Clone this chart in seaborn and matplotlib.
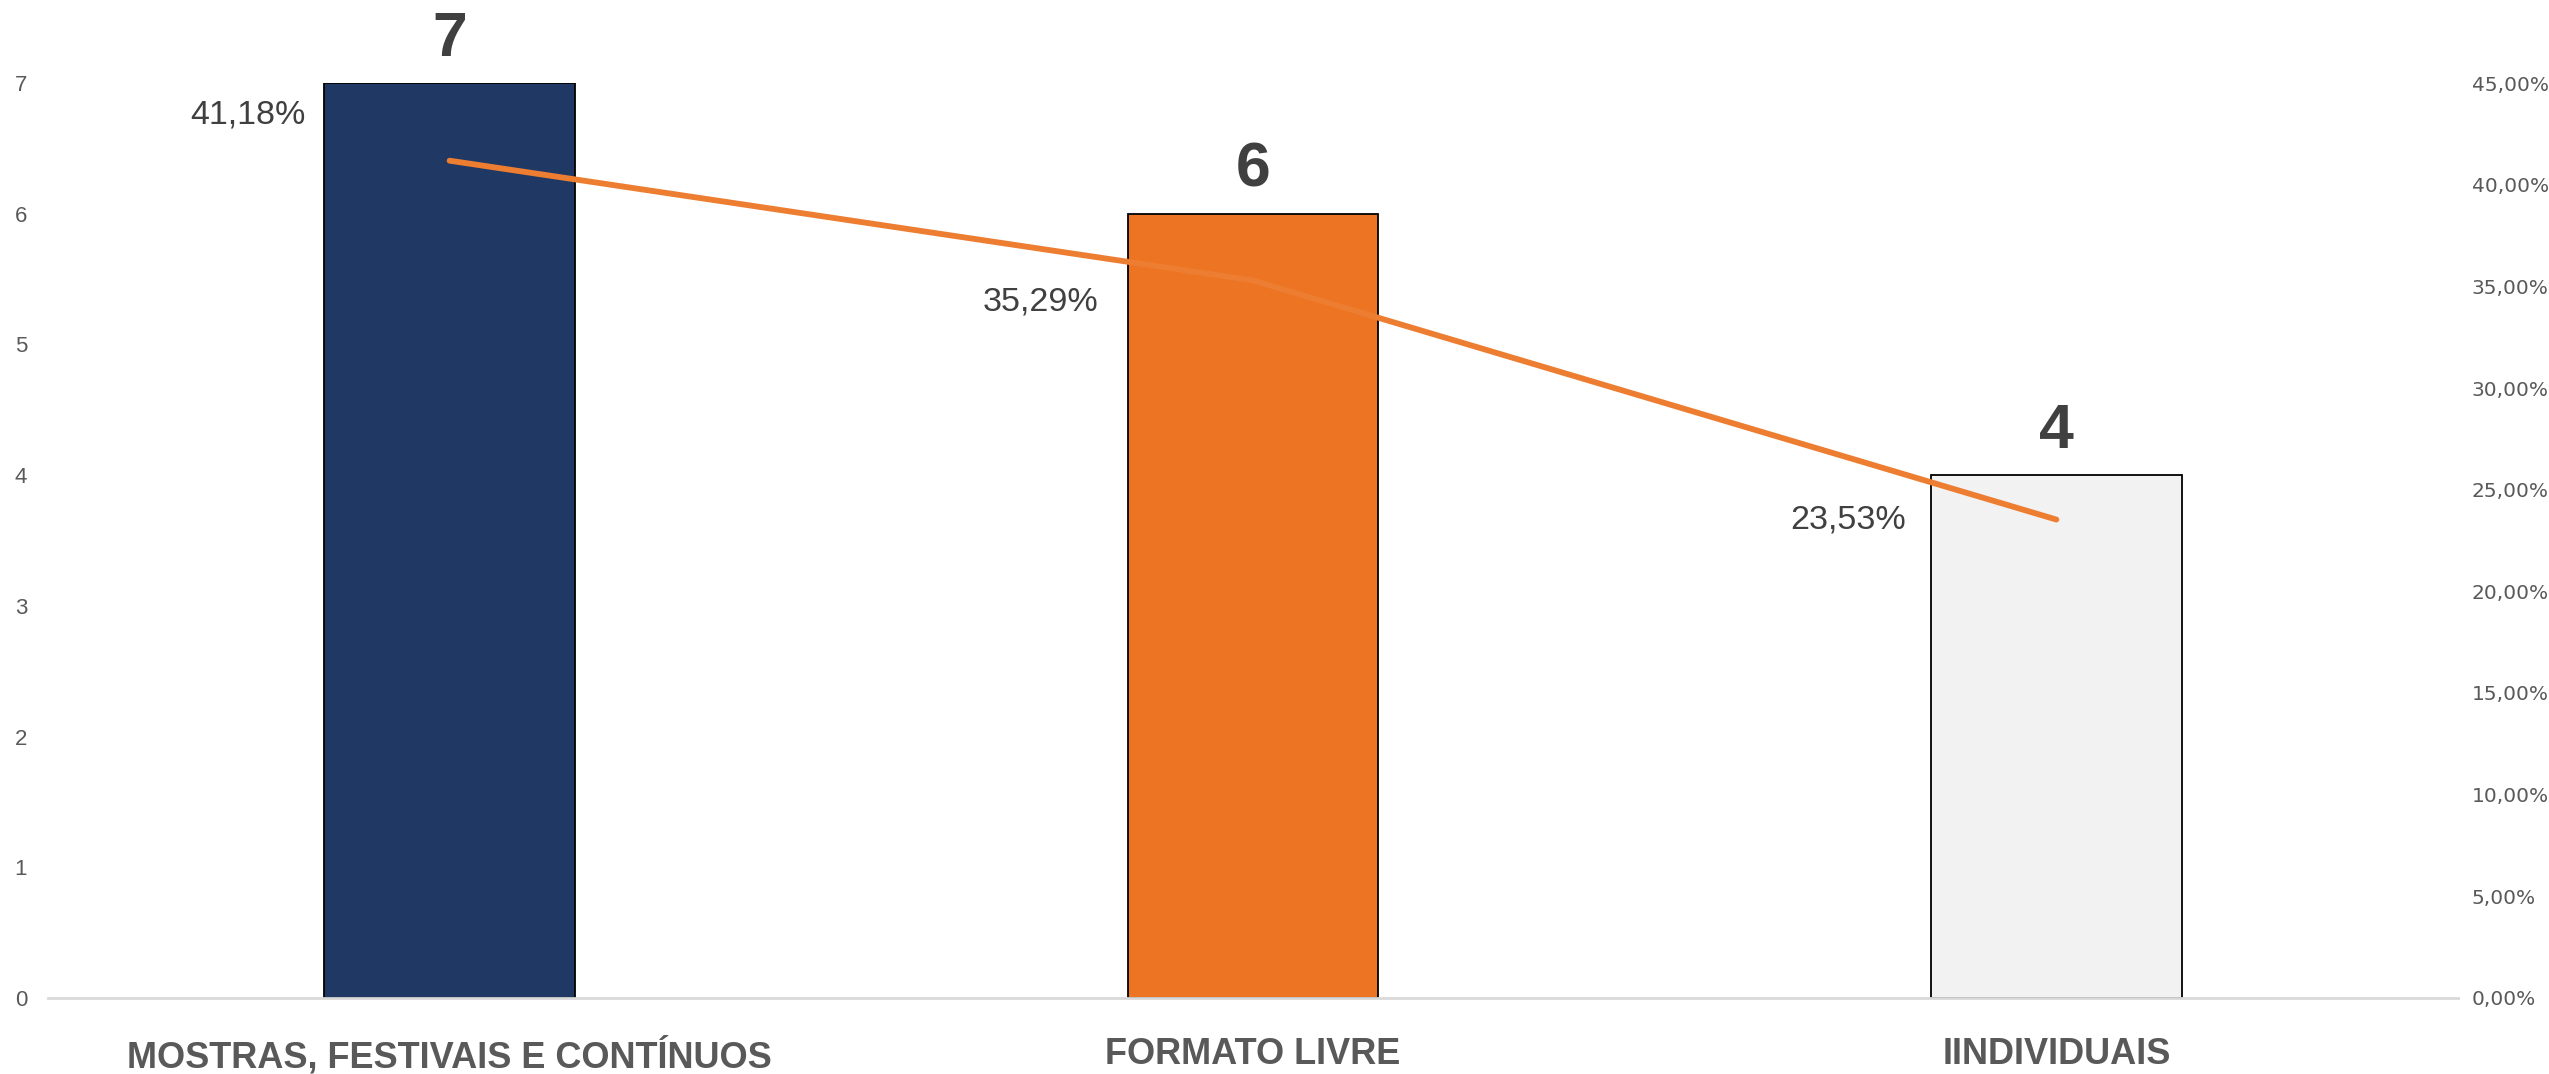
import matplotlib
matplotlib.use("Agg")
import matplotlib.pyplot as plt
import seaborn as sns
from matplotlib.ticker import FuncFormatter

# Data
categories = ["MOSTRAS, FESTIVAIS E CONTÍNUOS", "FORMATO LIVRE", "IINDIVIDUAIS"]
counts = [7, 6, 4]
shares = [0.4118, 0.3529, 0.2353]
share_labels = ["41,18%", "35,29%", "23,53%"]
bar_colors = ["#203864", "#EC7422", "#F2F2F2"]
line_color = "#ED7D31"

sns.set_theme(style="white")
plt.rcParams['font.family'] = ['Liberation Sans', 'DejaVu Sans']

fig = plt.figure(figsize=(25.49, 10.74), dpi=100)
ax = fig.add_axes([0.0188, 0.0708, 0.9455, 0.8519])

sns.barplot(x=categories, y=counts, hue=categories, palette=bar_colors,
            saturation=1, width=0.312, edgecolor="black", linewidth=1.3,
            legend=False, ax=ax)
ax.set_xlim(-0.5, 2.5)
ax.set_ylim(0, 7)
ax.set_yticks(range(0, 8))

for i, v in enumerate(counts):
    ax.text(i, v + 0.11, str(v), ha="center", va="bottom", fontsize=45,
            fontweight="bold", color="#404040", clip_on=False)

ax.tick_params(axis="x", length=0, pad=28, labelsize=26, labelcolor="#595959")
for lab in ax.get_xticklabels():
    lab.set_fontweight("bold")
ax.tick_params(axis="y", length=0, pad=15, labelsize=16, labelcolor="#595959")

for s in ["top", "right", "left"]:
    ax.spines[s].set_visible(False)
ax.spines["bottom"].set_color("#D9D9D9")
ax.spines["bottom"].set_linewidth(2)

# Secondary axis with percentage line
ax2 = ax.twinx()
xpos = list(range(len(categories)))
sns.lineplot(x=xpos, y=shares, color=line_color, linewidth=4.2, ax=ax2,
             solid_capstyle="round")
ax2.set_ylim(0, 0.45)
ax2.set_yticks([i * 0.05 for i in range(10)])
ax2.yaxis.set_major_formatter(FuncFormatter(lambda v, p: f"{v*100:.2f}%".replace(".", ",")))
ax2.tick_params(axis="y", length=0, pad=10, labelsize=14.5, labelcolor="#595959")
for lab in ax2.get_yticklabels():
    lab.set_family("DejaVu Sans")
for s in ax2.spines.values():
    s.set_visible(False)

offsets = [(-144, 46), (-155, -22), (-150, 0)]
for i, (v, t) in enumerate(zip(shares, share_labels)):
    ax2.annotate(t, xy=(i, v), xytext=offsets[i], textcoords="offset pixels",
                 ha="right", va="center", fontsize=24.5, color="#404040")

fig.savefig("out.png", dpi=100)
